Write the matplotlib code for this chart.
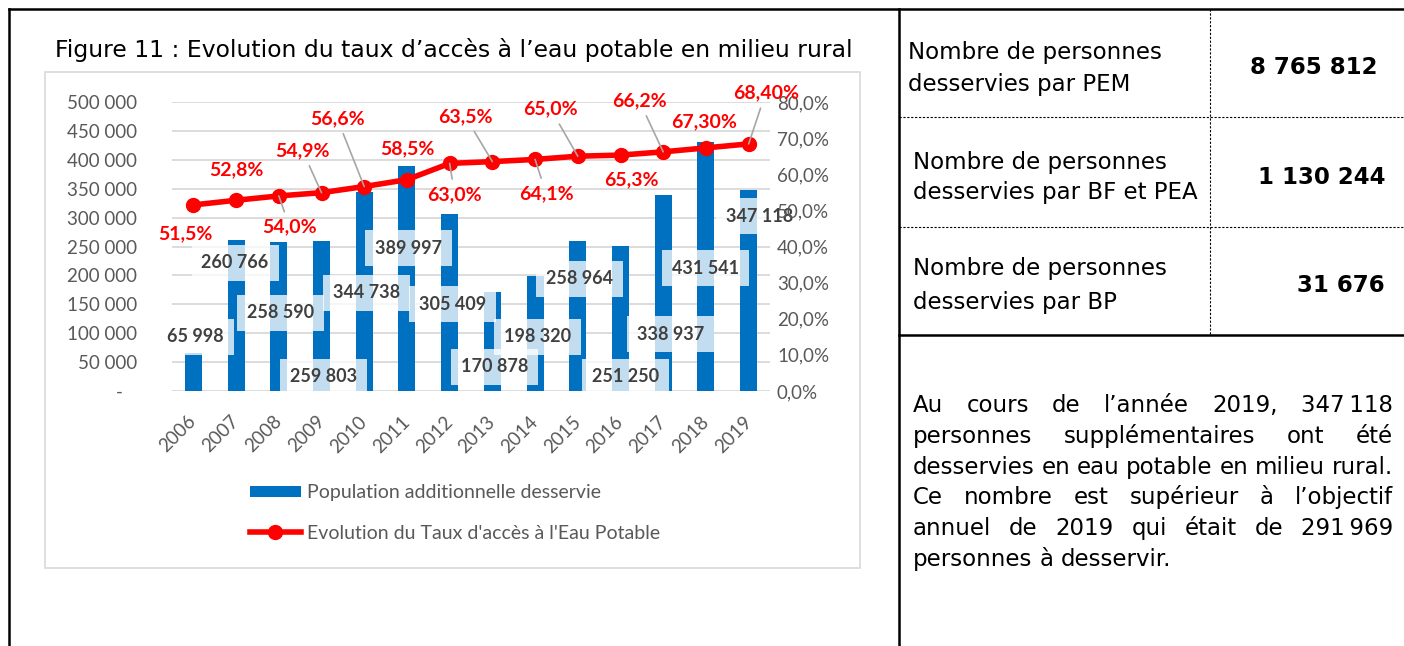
import matplotlib
matplotlib.use("Agg")
import matplotlib.pyplot as plt
from matplotlib.patches import Rectangle
from matplotlib.ticker import FuncFormatter

# ---- data ----
years = ["2006", "2007", "2008", "2009", "2010", "2011", "2012",
         "2013", "2014", "2015", "2016", "2017", "2018", "2019"]
pop_added = [65998, 260766, 258590, 259803, 344738, 389997, 305409,
             170878, 198320, 258964, 251250, 338937, 431541, 347118]
access_rate = [51.5, 52.8, 54.0, 54.9, 56.6, 58.5, 63.0,
               63.5, 64.1, 65.0, 65.3, 66.2, 67.3, 68.4]
rate_labels = ["51,5%", "52,8%", "54,0%", "54,9%", "56,6%", "58,5%", "63,0%",
               "63,5%", "64,1%", "65,0%", "65,3%", "66,2%", "67,30%", "68,40%"]

table_labels = [["Nombre de personnes", "desservies par PEM"],
                ["Nombre de personnes", "desservies par BF et PEA"],
                ["Nombre de personnes", "desservies par BP"]]
table_values = ["8 765 812", "1 130 244", "31 676"]

title = "Figure 11 : Evolution du taux d\u2019acc\u00e8s \u00e0 l\u2019eau potable en milieu rural"
bar_name = "Population additionnelle desservie"
line_name = "Evolution du Taux d'acc\u00e8s \u00e0 l'Eau Potable"

paragraph = [
    ("Au cours de l\u2019ann\u00e9e 2019, 347\u202f118", True),
    ("personnes suppl\u00e9mentaires ont \u00e9t\u00e9", True),
    ("desservies en eau potable en milieu rural.", True),
    ("Ce nombre est sup\u00e9rieur \u00e0 l\u2019objectif", True),
    ("annuel de 2019 qui \u00e9tait de 291\u202f969", True),
    ("personnes \u00e0 desservir.", False),
]

# ---- layout (pixel offsets of the hand-placed Excel labels) ----
bar_lbl_off = [(2, 54), (-1, 128), (2, 78), (2, 14), (2, 98), (2, 143), (3, 87),
               (2, 24), (2, 54), (2, 112), (5, 14), (7, 57), (0, 123), (11, 175)]
rate_lbl_off = [(-8, -29), (0, 31), (11, -31), (-19, 42), (-27, 68), (0, 31), (5, -31),
                (-27, 45), (11, -34), (-27, 47), (11, -25), (-24, 51), (-2, 26), (17, 51)]
leader = [False, False, True, True, True, False, True,
          True, True, True, False, True, False, True]

CHART_FONT = "Lato"
DOC_FONT = "DejaVu Sans"
GREY = "#595959"

W, H = 1404, 646
fig = plt.figure(figsize=(W / 100, H / 100), dpi=100)

bg = fig.add_axes([0, 0, 1, 1])
bg.set_xlim(0, W)
bg.set_ylim(H, 0)
bg.axis("off")
bg.set_zorder(0)

# page frame + table
bg.plot([9, W], [9, 9], color="black", lw=1.8)
bg.plot([9, 9], [9, H], color="black", lw=1.8)
bg.plot([899, 899], [9, H], color="black", lw=1.8)
bg.plot([899, W], [335, 335], color="black", lw=1.8)
for yy in (117, 227):
    bg.plot([899, W], [yy, yy], color="black", lw=0.8, ls=(0, (2, 1.5)))
bg.plot([1210, 1210], [9, 335], color="black", lw=0.8, ls=(0, (2, 1.5)))

# chart box
bg.add_patch(Rectangle((45, 72), 815, 496, fill=False, ec="#D9D9D9", lw=1.2))
bg.text(454, 50, title, ha="center", va="center", fontsize=16.9, family=DOC_FONT)

# table text
rows_y = [(53, 85, 67), (162, 193, 177), (268, 302, 285)]
lefts = [908, 913, 913]
rights = [1378, 1385, 1385]
for lines, (y1, y2, yv), xl, xr, val in zip(table_labels, rows_y, lefts, rights, table_values):
    bg.text(xl, y1, lines[0], va="center", fontsize=16.5, family=DOC_FONT)
    bg.text(xl, y2, lines[1], va="center", fontsize=16.5, family=DOC_FONT)
    bg.text(xr, yv, val, va="center", ha="right", fontsize=16.5,
            fontweight="bold", family=DOC_FONT)

# justified paragraph
renderer = fig.canvas.get_renderer()
x0, x1 = 913, 1393
for k, (line, just) in enumerate(paragraph):
    yb = 412 + k * 30.8
    words = line.split(" ")
    txts = [bg.text(0, yb, w, va="baseline", fontsize=16.5, family=DOC_FONT) for w in words]
    widths = [t.get_window_extent(renderer).width for t in txts]
    gap = (x1 - x0 - sum(widths)) / (len(words) - 1) if just else 7
    xc = x0
    for t, w in zip(txts, widths):
        t.set_x(xc)
        xc += w + gap

# ---- chart ----
ax = fig.add_axes([172 / W, 1 - 391 / H, 598 / W, 289 / H])
ax.set_zorder(1)
ax.patch.set_visible(False)
ax2 = ax.twinx()
ax2.set_zorder(2)
ax2.patch.set_visible(False)

x = list(range(len(years)))
bars = ax.bar(x, pop_added, width=0.4, color="#0070C0", zorder=2, label=bar_name)
ax.set_xlim(-0.5, len(years) - 0.5)
ax.set_ylim(0, 500000)
ax.set_yticks(range(0, 500001, 50000))
ax.yaxis.set_major_formatter(
    FuncFormatter(lambda v, _: f"{int(v):,}".replace(",", " ") if v else "-   "))
ax.grid(axis="y", color="#D9D9D9", lw=1.3)
ax.set_axisbelow(True)
ax.set_xticks(x, years, rotation=45, ha="right", va="center", rotation_mode="anchor")
ax.tick_params(axis="y", length=0, pad=25, labelsize=13.5, labelcolor=GREY)
ax.tick_params(axis="x", length=0, pad=20, labelsize=13.5, labelcolor=GREY)
for lab in ax.get_xticklabels() + ax.get_yticklabels():
    lab.set_family(CHART_FONT)

for i, (v, (dx, dy)) in enumerate(zip(pop_added, bar_lbl_off)):
    ax.annotate(f"{v:,}".replace(",", " "), xy=(i, 0), xytext=(dx, dy),
                textcoords="offset pixels", ha="center", va="center",
                fontsize=13, fontweight="bold", color="#404040", family=CHART_FONT,
                bbox=dict(boxstyle="square,pad=0.55", fc="white", ec="none", alpha=0.77),
                zorder=3)

line, = ax2.plot(x, access_rate, color="#FF0000", lw=4, marker="o", ms=10,
                 zorder=4, label=line_name)
ax2.set_ylim(0, 80)
ax2.set_yticks(range(0, 81, 10))
ax2.yaxis.set_major_formatter(FuncFormatter(lambda v, _: f"{v:.1f}%".replace(".", ",")))
ax2.tick_params(axis="y", length=0, pad=5, labelsize=13.5, labelcolor=GREY)
for lab in ax2.get_yticklabels():
    lab.set_family(CHART_FONT)

for i, (r, lbl, (dx, dy), ld) in enumerate(zip(access_rate, rate_labels, rate_lbl_off, leader)):
    ax2.annotate(lbl, xy=(i, r), xytext=(dx, dy), textcoords="offset pixels",
                 ha="center", va="center", fontsize=14, fontweight="bold",
                 color="#FF0000", family=CHART_FONT, zorder=5,
                 arrowprops=dict(arrowstyle="-", color="#A6A6A6", lw=1.2,
                                 shrinkA=3, shrinkB=0) if ld else None)

for a in (ax, ax2):
    for s in a.spines.values():
        s.set_visible(False)

fig.legend(handles=[bars, line], labels=[bar_name, line_name], loc="center left",
           bbox_to_anchor=(250 / W, 1 - 513 / H), frameon=False, borderpad=0,
           borderaxespad=0, handlelength=2.6, handleheight=0.5, handletextpad=0.35,
           labelspacing=1.2, prop={"family": CHART_FONT, "size": 14}, labelcolor=GREY)

fig.savefig("out.png", dpi=100)
